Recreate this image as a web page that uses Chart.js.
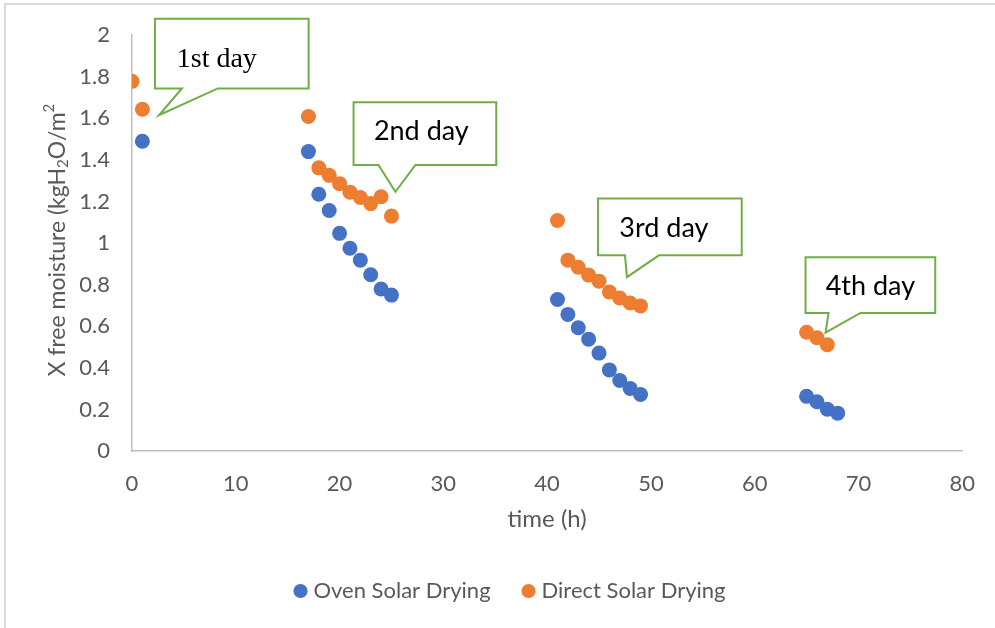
<!DOCTYPE html>
<html>
<head>
<meta charset="utf-8">
<style>
  html, body { margin: 0; padding: 0; background: #ffffff; }
  #wrap { width: 995px; height: 628px; position: relative; }
</style>
<script src="https://cdn.jsdelivr.net/npm/chart.js@4/dist/chart.umd.min.js"></script>
</head>
<body>
<div id="wrap"><canvas id="chart" width="995" height="628"></canvas></div>
<script>
// Drying time (h) and free moisture content X (kgH2O/m2)
const ovenTimes = [1, 17, 18, 19, 20, 21, 22, 23, 24, 25, 41, 42, 43, 44, 45, 46, 47, 48, 49, 65, 66, 67, 68];
const ovenMoisture = [1.49, 1.44, 1.235, 1.157, 1.047, 0.975, 0.918, 0.848, 0.779, 0.75,
  0.729, 0.657, 0.593, 0.538, 0.471, 0.39, 0.339, 0.301, 0.272,
  0.263, 0.237, 0.201, 0.182];

const directTimes = [0, 1, 17, 18, 19, 20, 21, 22, 23, 24, 25, 41, 42, 43, 44, 45, 46, 47, 48, 49, 65, 66, 67];
const directMoisture = [1.778, 1.644, 1.609, 1.362, 1.326, 1.286, 1.245, 1.219, 1.19, 1.223, 1.13,
  1.109, 0.918, 0.884, 0.846, 0.817, 0.765, 0.736, 0.712, 0.698,
  0.571, 0.545, 0.511];

const seriesNames = ['Oven Solar Drying', 'Direct Solar Drying'];
const dayLabels = ['1st day', '2nd day', '3rd day', '4th day'];

const xTickStep = 10, xMin = 0, xMax = 80;
const yTickStep = 0.2, yMin = 0, yMax = 2;

// Speech-bubble notes, placed in axis units: box edges, tail base on the box bottom, tail tip, text anchor
const notes = [
  { text: dayLabels[0], box: [2.21, 17.02, 2.079, 1.744], base: [4.81, 8.27], tip: [2.6, 1.615], at: [8.17, 1.883],
    font: '28px "Liberation Serif", "Times New Roman", serif' },
  { text: dayLabels[1], box: [21.35, 35.1, 1.677, 1.376], base: [23.75, 27.31], tip: [25.38, 1.247], at: [27.88, 1.539],
    font: '27px Lato, sans-serif' },
  { text: dayLabels[2], box: [44.9, 58.75, 1.214, 0.941], base: [47.5, 50.77], tip: [47.69, 0.836], at: [51.25, 1.07],
    font: '27px Lato, sans-serif' },
  { text: dayLabels[3], box: [64.9, 77.4, 0.932, 0.664], base: [67.12, 70.19], tip: [66.83, 0.569], at: [71.15, 0.793],
    font: '27px Lato, sans-serif' }
];

const toPoints = (xs, ys) => xs.map((x, i) => ({ x: x, y: ys[i] }));

const textGrey = '#595959';
const axisGrey = '#bfbfbf';
const baseFont = 'Lato, sans-serif';

// Light frame on the left and top edges of the figure
const framePlugin = {
  id: 'frame',
  beforeDraw(chart) {
    const ctx = chart.ctx;
    ctx.save();
    ctx.fillStyle = '#ffffff';
    ctx.fillRect(0, 0, chart.width, chart.height);
    ctx.strokeStyle = '#d9d9d9';
    ctx.lineWidth = 2;
    ctx.beginPath();
    ctx.moveTo(5, chart.height);
    ctx.lineTo(5, 4);
    ctx.lineTo(chart.width, 4);
    ctx.stroke();
    ctx.restore();
  }
};

// Vertical axis title with subscript and superscript
const yTitlePlugin = {
  id: 'yTitle',
  afterDraw(chart) {
    const ctx = chart.ctx;
    const area = chart.chartArea;
    const parts = [
      { t: 'X free moisture (kgH', size: 23, dy: 0 },
      { t: '2', size: 15, dy: 5 },
      { t: 'O/m', size: 23, dy: 0 },
      { t: '2', size: 15, dy: -9 }
    ];
    ctx.save();
    let total = 0;
    parts.forEach(p => {
      ctx.font = p.size + 'px ' + baseFont;
      p.w = ctx.measureText(p.t).width;
      total += p.w;
    });
    ctx.translate(58, (area.top + area.bottom) / 2 - 3);
    ctx.rotate(-Math.PI / 2);
    ctx.fillStyle = textGrey;
    ctx.textBaseline = 'middle';
    ctx.textAlign = 'left';
    let x = -total / 2;
    parts.forEach(p => {
      ctx.font = p.size + 'px ' + baseFont;
      ctx.fillText(p.t, x, p.dy);
      x += p.w;
    });
    ctx.restore();
  }
};

// Callout bubbles with a pointed tail
const notesPlugin = {
  id: 'notes',
  afterDatasetsDraw(chart) {
    const ctx = chart.ctx;
    const sx = chart.scales.x, sy = chart.scales.y;
    ctx.save();
    notes.forEach(n => {
      const l = sx.getPixelForValue(n.box[0]);
      const r = sx.getPixelForValue(n.box[1]);
      const t = sy.getPixelForValue(n.box[2]);
      const b = sy.getPixelForValue(n.box[3]);
      const b1 = sx.getPixelForValue(n.base[0]);
      const b2 = sx.getPixelForValue(n.base[1]);
      const tx = sx.getPixelForValue(n.tip[0]);
      const ty = sy.getPixelForValue(n.tip[1]);
      ctx.beginPath();
      ctx.moveTo(l, t);
      ctx.lineTo(r, t);
      ctx.lineTo(r, b);
      ctx.lineTo(b2, b);
      ctx.lineTo(tx, ty);
      ctx.lineTo(b1, b);
      ctx.lineTo(l, b);
      ctx.closePath();
      ctx.fillStyle = '#ffffff';
      ctx.fill();
      ctx.strokeStyle = '#70ad47';
      ctx.lineWidth = 2;
      ctx.lineJoin = 'miter';
      ctx.stroke();
      ctx.fillStyle = '#000000';
      ctx.font = n.font;
      ctx.textAlign = 'center';
      ctx.textBaseline = 'middle';
      ctx.fillText(n.text, sx.getPixelForValue(n.at[0]), sy.getPixelForValue(n.at[1]));
    });
    ctx.restore();
  }
};

new Chart(document.getElementById('chart'), {
  type: 'scatter',
  data: {
    datasets: [
      {
        label: seriesNames[0],
        data: toPoints(ovenTimes, ovenMoisture),
        backgroundColor: '#4472c4',
        borderWidth: 0,
        pointRadius: 7.5,
        pointHoverRadius: 7.5
      },
      {
        label: seriesNames[1],
        data: toPoints(directTimes, directMoisture),
        backgroundColor: '#ed7d31',
        borderWidth: 0,
        pointRadius: 7.5,
        pointHoverRadius: 7.5
      }
    ]
  },
  options: {
    responsive: false,
    animation: false,
    events: [],
    layout: { padding: { left: 60, right: 31, top: 32, bottom: 16 } },
    scales: {
      x: {
        type: 'linear',
        min: xMin,
        max: xMax,
        grid: { display: false, drawTicks: false },
        border: { display: true, color: axisGrey, width: 1.5 },
        ticks: {
          stepSize: xTickStep,
          padding: 20,
          color: textGrey,
          font: { family: baseFont, size: 22 }
        },
        title: {
          display: true,
          text: 'time (h)',
          color: textGrey,
          font: { family: baseFont, size: 24 },
          padding: { top: 0, bottom: 10 }
        },
        afterFit(scale) { scale.height = 93; }
      },
      y: {
        type: 'linear',
        min: yMin,
        max: yMax,
        grid: { display: false, drawTicks: false },
        border: { display: true, color: axisGrey, width: 1.5 },
        ticks: {
          stepSize: yTickStep,
          padding: 22,
          color: textGrey,
          font: { family: baseFont, size: 22 },
          callback: v => String(Number(v.toFixed(1)))
        },
        afterFit(scale) { scale.width = 72; }
      }
    },
    plugins: {
      legend: {
        position: 'bottom',
        labels: {
          usePointStyle: true,
          pointStyle: 'circle',
          boxWidth: 4,
          boxHeight: 10,
          padding: 36,
          color: textGrey,
          font: { family: baseFont, size: 22 }
        }
      },
      tooltip: { enabled: false }
    }
  },
  plugins: [framePlugin, yTitlePlugin, notesPlugin]
});
</script>
</body>
</html>
